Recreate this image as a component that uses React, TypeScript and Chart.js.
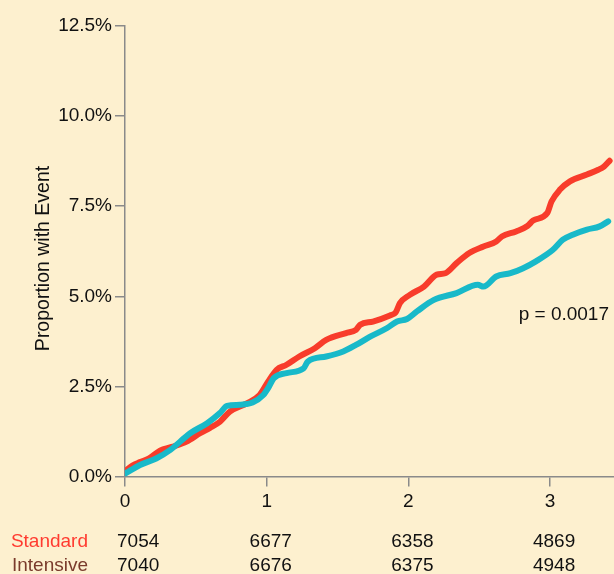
import React, { useEffect, useRef } from "react";
import { Chart, registerables } from "chart.js";

Chart.register(...registerables);

// Cumulative event proportion (%) by years of follow-up
const standardYears = [0, 0.05, 0.106, 0.17, 0.247, 0.33, 0.435, 0.53, 0.6, 0.67, 0.74, 0.86, 0.95, 1.01, 1.07, 1.14, 1.23, 1.34, 1.42, 1.56, 1.63, 1.66, 1.75, 1.87, 1.91, 1.94, 2.01, 2.11, 2.2, 2.26, 2.34, 2.43, 2.53, 2.62, 2.66, 2.76, 2.84, 2.88, 2.98, 3.01, 3.07, 3.14, 3.26, 3.34, 3.38, 3.42];
const standardPct = [0.15, 0.3, 0.4, 0.5, 0.72, 0.82, 0.97, 1.2, 1.35, 1.52, 1.8, 2.03, 2.26, 2.63, 2.96, 3.1, 3.33, 3.56, 3.79, 3.98, 4.07, 4.21, 4.3, 4.47, 4.55, 4.81, 5.04, 5.27, 5.6, 5.64, 5.92, 6.2, 6.38, 6.52, 6.66, 6.8, 6.95, 7.1, 7.31, 7.63, 7.96, 8.19, 8.38, 8.51, 8.6, 8.76];

const intensiveYears = [0, 0.106, 0.22, 0.32, 0.46, 0.58, 0.67, 0.72, 0.81, 0.9, 0.976, 1.01, 1.05, 1.14, 1.26, 1.29, 1.42, 1.54, 1.63, 1.73, 1.85, 1.92, 1.99, 2.06, 2.18, 2.34, 2.49, 2.53, 2.62, 2.72, 2.81, 2.9, 3.02, 3.09, 3.16, 3.26, 3.35, 3.41];
const intensivePct = [0.08, 0.32, 0.5, 0.74, 1.2, 1.48, 1.76, 1.96, 1.99, 2.05, 2.26, 2.45, 2.73, 2.87, 3.0, 3.19, 3.33, 3.47, 3.65, 3.88, 4.12, 4.3, 4.37, 4.58, 4.9, 5.09, 5.32, 5.27, 5.55, 5.64, 5.78, 5.97, 6.29, 6.57, 6.71, 6.85, 6.94, 7.08];

// Numbers at risk
const riskYears = [0, 1, 2, 3];
const standardAtRisk = ["7054", "6677", "6358", "4869"];
const intensiveAtRisk = ["7040", "6676", "6375", "4948"];

const yTicks = [0, 2.5, 5, 7.5, 10, 12.5];
const xTicks = [0, 1, 2, 3];
const pValueText = "p = 0.0017";
const yAxisTitle = "Proportion with Event";

const BG = "#fdf0cf";
const RED = "#f83c2b";
const CYAN = "#18b9c9";
const AXIS = "#8a8a8a";
const FONT = "'Liberation Sans', Arial, sans-serif";
const SIZE = 19;

const annotations = {
  id: "riskTable",
  afterDraw(chart: any) {
    const ctx = chart.ctx;
    const x = chart.scales.x;
    const y = chart.scales.y;
    ctx.save();
    ctx.font = `${SIZE}px ${FONT}`;
    ctx.textBaseline = "middle";

    ctx.textAlign = "right";
    ctx.fillStyle = "#ff3b30";
    ctx.fillText("Standard", 88, 542);
    ctx.fillStyle = "#7a3b2c";
    ctx.fillText("Intensive", 88, 566);

    ctx.fillStyle = "#111";
    riskYears.forEach((yr, i) => {
      const px = x.getPixelForValue(yr);
      if (i === 0) {
        ctx.textAlign = "left";
        ctx.fillText(standardAtRisk[i], px - 8, 542);
        ctx.fillText(intensiveAtRisk[i], px - 8, 566);
      } else {
        ctx.textAlign = "center";
        ctx.fillText(standardAtRisk[i], px + 4, 542);
        ctx.fillText(intensiveAtRisk[i], px + 4, 566);
      }
    });

    ctx.textAlign = "right";
    ctx.fillText(pValueText, chart.chartArea.right - 5, y.getPixelForValue(4.5));

    // rotated y-axis title
    ctx.save();
    ctx.translate(44, y.getPixelForValue(6.05));
    ctx.rotate(-Math.PI / 2);
    ctx.textAlign = "center";
    ctx.font = `19.5px ${FONT}`;
    ctx.fillText(yAxisTitle, 0, 0);
    ctx.restore();

    ctx.restore();
  },
};

const background = {
  id: "bg",
  beforeDraw(chart: any) {
    const ctx = chart.ctx;
    ctx.save();
    ctx.fillStyle = BG;
    ctx.fillRect(0, 0, chart.width, chart.height);
    ctx.restore();
  },
};

export default function App() {
  const ref = useRef<HTMLCanvasElement | null>(null);

  useEffect(() => {
    if (!ref.current) return;
    const toPoints = (xs: number[], ys: number[]) => xs.map((t, i) => ({ x: t, y: ys[i] }));
    const chart = new Chart(ref.current, {
      type: "line",
      data: {
        datasets: [
          {
            label: "Intensive",
            data: toPoints(intensiveYears, intensivePct),
            borderColor: CYAN,
            borderWidth: 6,
            pointRadius: 0,
            cubicInterpolationMode: "monotone",
            borderCapStyle: "round",
            borderJoinStyle: "round",
            fill: false,
          },
          {
            label: "Standard",
            data: toPoints(standardYears, standardPct),
            borderColor: RED,
            borderWidth: 6,
            pointRadius: 0,
            cubicInterpolationMode: "monotone",
            borderCapStyle: "round",
            borderJoinStyle: "round",
            fill: false,
          },
        ],
      },
      options: {
        responsive: false,
        animation: false,
        layout: { padding: { top: 26, right: 0, left: 0, bottom: 0 } },
        plugins: { legend: { display: false }, tooltip: { enabled: false } },
        scales: {
          x: {
            type: "linear",
            min: 0,
            max: 3.451,
            afterBuildTicks: (s: any) => {
              s.ticks = xTicks.map((v) => ({ value: v }));
            },
            afterFit: (s: any) => {
              s.height = 97.5;
            },
            ticks: {
              color: "#111",
              font: { family: FONT, size: SIZE },
              padding: 4,
              maxRotation: 0,
              callback: (v: any) => String(v),
            },
            grid: {
              drawOnChartArea: false,
              drawTicks: true,
              tickLength: 10,
              color: AXIS,
              lineWidth: 1.5,
            },
            border: { color: AXIS, width: 1.5 },
          },
          y: {
            type: "linear",
            min: 0,
            max: 12.5,
            afterBuildTicks: (s: any) => {
              s.ticks = yTicks.map((v) => ({ value: v }));
            },
            afterFit: (s: any) => {
              s.width = 125;
            },
            ticks: {
              color: "#111",
              font: { family: FONT, size: SIZE },
              padding: 3,
              callback: (v: any) => `${Number(v).toFixed(1)}%`,
            },
            grid: {
              drawOnChartArea: false,
              drawTicks: true,
              tickLength: 10,
              color: AXIS,
              lineWidth: 1.5,
            },
            border: { color: AXIS, width: 1.5 },
          },
        },
      },
      plugins: [background, annotations],
    });
    return () => chart.destroy();
  }, []);

  return (
    <div style={{ position: "fixed", left: 0, top: 0, width: 614, height: 574, background: BG }}>
      <canvas ref={ref} width={614} height={574} style={{ display: "block" }} />
    </div>
  );
}
